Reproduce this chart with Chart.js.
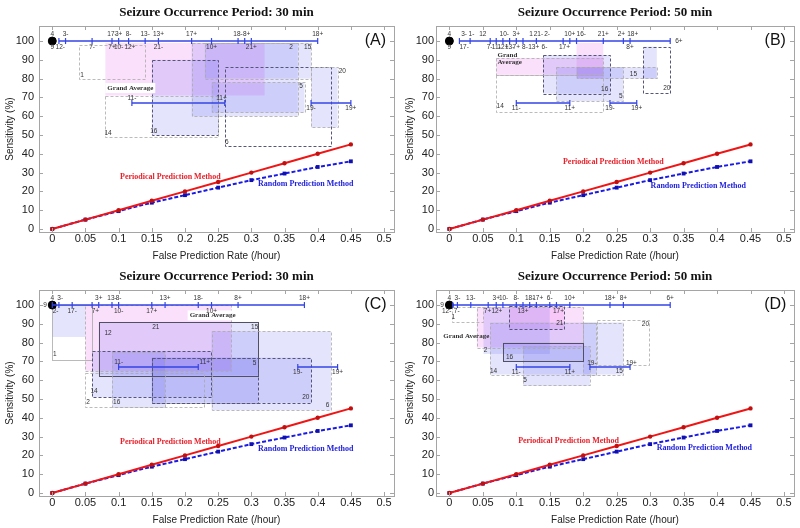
<!DOCTYPE html>
<html>
<head>
<meta charset="UTF-8">
<title>Seizure Occurrence Period</title>
<script src="https://cdn.jsdelivr.net/npm/chart.js"></script>
<style>
  body { margin: 0; background: #fff; }
  .panel { position: absolute; width: 400px; height: 264px; }
</style>
</head>
<body>
<div class="panel" style="left:0;top:0"><canvas id="chartA" width="400" height="264"></canvas></div>
<div class="panel" style="left:400px;top:0"><canvas id="chartB" width="400" height="264"></canvas></div>
<div class="panel" style="left:0;top:264px"><canvas id="chartC" width="400" height="264"></canvas></div>
<div class="panel" style="left:400px;top:264px"><canvas id="chartD" width="400" height="264"></canvas></div>

<script>
// reference curves (same in every panel)
const rateX = [0, 0.05, 0.1, 0.15, 0.2, 0.25, 0.3, 0.35, 0.4, 0.45];
const periodicalY = [0, 5, 10, 15, 20, 25, 30, 35, 40, 45];
const randomY = [0, 5, 9.5, 14, 18, 22, 26, 29.5, 33, 36];

const xTicks = [0, 0.05, 0.1, 0.15, 0.2, 0.25, 0.3, 0.35, 0.4, 0.45, 0.5];
const xTickLabels = ['0', '0.05', '0.1', '0.15', '0.2', '0.25', '0.3', '0.35', '0.4', '0.45', '0.5'];
const yTicks = [0, 10, 20, 30, 40, 50, 60, 70, 80, 90, 100];

// panel A  (30 min)
const topTicksA = [0.01, 0.02, 0.06, 0.09, 0.1, 0.115, 0.14, 0.16, 0.21, 0.24, 0.28, 0.29, 0.3, 0.4];
const midLinesA = [[0.12, 0.26, 67], [0.39, 0.45, 67]];
// [x1, x2, y1, y2, fill, border]
const boxesA = [
  [0.08, 0.32, 71, 99, 'p', 'n'],
  [0.04, 0.14, 80, 98, 'n', 'g'],
  [0.21, 0.37, 60, 99, 'b', 'g'],
  [0.23, 0.39, 80, 99, 'b', 'g'],
  [0.24, 0.38, 62, 78, 'b', 'g'],
  [0.15, 0.25, 50, 90, 'b', 'd'],
  [0.08, 0.25, 49, 71, 'n', 'g'],
  [0.26, 0.42, 44, 86, 'n', 'd'],
  [0.39, 0.43, 54, 86, 'b', 'g']
];
const notesA = [
  [0, 103.7, '4'], [0.02, 103.7, '3-'], [0.09, 103.7, '17-'], [0.1, 103.7, '3+'], [0.115, 103.7, '8-'],
  [0.14, 103.7, '13-'], [0.16, 103.7, '13+'], [0.21, 103.7, '17+'], [0.28, 103.7, '18-'], [0.293, 103.7, '8+'], [0.4, 103.7, '18+'],
  [0, 96.8, '9'], [0.012, 96.8, '12-'], [0.06, 96.8, '7-'], [0.09, 96.8, '7+'], [0.1, 96.8, '10-'], [0.117, 96.8, '12+'],
  [0.16, 96.8, '21-'], [0.24, 96.8, '10+'], [0.3, 96.8, '21+'], [0.36, 96.8, '2'], [0.385, 96.8, '15'],
  [0.045, 82, '1'], [0.375, 76, '5'], [0.437, 84, '20'], [0.153, 52, '16'], [0.084, 51, '14'], [0.263, 46, '6'],
  [0.12, 69.5, '11-'], [0.255, 69.5, '11+'], [0.39, 64.3, '19-'], [0.45, 64.3, '19+']
];
const gaLabelA = [[0.083, 75, 'Grand Average', 1]];
const methodPosA = [[0.178, 27.7], [0.382, 24]];

// panel B  (50 min)
const topTicksB = [0.015, 0.031, 0.061, 0.07, 0.08, 0.09, 0.1, 0.11, 0.13, 0.17, 0.18, 0.19, 0.23, 0.26, 0.27, 0.33];
const midLinesB = [[0.1, 0.18, 67], [0.24, 0.28, 67]];
const boxesB = [
  [0.07, 0.23, 82, 91, 'p', 'g'],
  [0.19, 0.23, 80, 99, 'p', 'n'],
  [0.14, 0.24, 72, 92.5, 'b', 'd'],
  [0.16, 0.26, 68, 86, 'b', 'g'],
  [0.19, 0.31, 80, 86, 'b', 'g'],
  [0.29, 0.31, 80, 97, 'b', 'n'],
  [0.29, 0.33, 72.5, 97, 'n', 'd'],
  [0.07, 0.23, 62.5, 82, 'n', 'g']
];
const notesB = [
  [0, 103.7, '4'], [0.022, 103.7, '3-'], [0.033, 103.7, '1-'], [0.05, 103.7, '12'], [0.082, 103.7, '10-'], [0.1, 103.7, '3+'],
  [0.122, 103.7, '1'], [0.133, 103.7, '21-'], [0.146, 103.7, '2-'], [0.18, 103.7, '10+'], [0.197, 103.7, '16-'],
  [0.23, 103.7, '21+'], [0.257, 103.7, '2+'], [0.274, 103.7, '18+'], [0.343, 100, '6+'],
  [0, 96.8, '9'], [0.022, 96.8, '17-'], [0.06, 96.8, '7-'], [0.07, 96.8, '11-'], [0.08, 96.8, '12+'], [0.09, 96.8, '13-'],
  [0.1, 96.8, '7+'], [0.113, 96.8, '8-'], [0.126, 96.8, '13+'], [0.142, 96.8, '6-'], [0.172, 96.8, '17+'], [0.27, 96.8, '8+'],
  [0.232, 74.5, '16'], [0.256, 70.5, '5'], [0.275, 82.5, '15'], [0.325, 75, '20'], [0.076, 65.2, '14'],
  [0.1, 64.5, '11-'], [0.18, 64.5, '11+'], [0.24, 64.5, '19-'], [0.28, 64.5, '19+']
];
const gaLabelB = [[0.072, 92.6, 'Grand', 0], [0.072, 88.7, 'Average', 0]];
const methodPosB = [[0.245, 35.6], [0.372, 23]];

// panel C  (30 min)
const topTicksC = [0, 0.01, 0.03, 0.06, 0.07, 0.09, 0.1, 0.15, 0.17, 0.22, 0.24, 0.28, 0.38];
const midLinesC = [[0.1, 0.22, 67], [0.37, 0.43, 67]];
const boxesC = [
  [0.05, 0.27, 65, 100, 'p', 'g'],
  [0, 0.05, 83, 100, 'b', 'n'],
  [0, 0.06, 71, 100, 'n', 'gs'],
  [0.07, 0.31, 62.5, 91, 'b', 's'],
  [0.24, 0.42, 44, 86, 'b', 'g'],
  [0.06, 0.24, 51, 75.5, 'b', 'd'],
  [0.09, 0.17, 45.5, 75, 'b', 'g'],
  [0.05, 0.23, 46, 64, 'n', 'g'],
  [0.15, 0.39, 48, 72, 'b', 'd'],
  [0.15, 0.31, 48, 72, 'b', 'd']
];
const notesC = [
  [0, 103.7, '4'], [0.012, 103.7, '3-'], [0.07, 103.7, '3+'], [0.09, 103.7, '13-'], [0.1, 103.7, '8-'], [0.17, 103.7, '13+'],
  [0.22, 103.7, '18-'], [0.28, 103.7, '8+'], [0.38, 103.7, '18+'],
  [-0.011, 100, '9'], [0.005, 96.8, '2-'], [0.03, 96.8, '17-'], [0.065, 96.8, '7+'], [0.1, 96.8, '10-'], [0.15, 96.8, '17+'], [0.24, 96.8, '10+'],
  [0.156, 88, '21'], [0.305, 88, '15'], [0.084, 85, '12'], [0.004, 74, '1'], [0.305, 69, '5'], [0.382, 51, '20'],
  [0.415, 46.5, '6'], [0.063, 54, '14'], [0.097, 48.3, '16'], [0.054, 48.3, '2'],
  [0.1, 69.5, '11-'], [0.23, 69.5, '11+'], [0.37, 64, '19-'], [0.43, 64, '19+']
];
const gaLabelC = [[0.207, 94.5, 'Grand Average', 1]];
const methodPosC = [[0.178, 27.3], [0.382, 23.4]];

// panel D  (50 min)
const topTicksD = [0.005, 0.012, 0.032, 0.058, 0.07, 0.08, 0.1, 0.11, 0.12, 0.13, 0.15, 0.16, 0.18, 0.24, 0.26, 0.33];
const midLinesD = [[0.1, 0.18, 67], [0.21, 0.27, 67]];
const boxesD = [
  [0.041, 0.2, 77.4, 99, 'p', 'g'],
  [0.089, 0.171, 87.2, 99.5, 'p', 'd'],
  [0.004, 0.05, 91, 99, 'n', 'g'],
  [0.051, 0.15, 74, 99, 'b', 'n'],
  [0.061, 0.22, 63, 90.7, 'b', 'g'],
  [0.2, 0.26, 63, 90.7, 'b', 'g'],
  [0.22, 0.298, 68, 92, 'n', 'g'],
  [0.11, 0.21, 57, 78, 'b', 'g'],
  [0.08, 0.2, 70.2, 80, 'b', 's']
];
const notesD = [
  [0, 103.7, '4'], [0.012, 103.7, '3-'], [0.032, 103.7, '13-'], [0.07, 103.7, '3+'], [0.081, 103.7, '10-'], [0.1, 103.7, '8-'],
  [0.12, 103.7, '18-'], [0.132, 103.7, '17+'], [0.15, 103.7, '6-'], [0.18, 103.7, '10+'], [0.24, 103.7, '18+'], [0.26, 103.7, '8+'], [0.33, 103.7, '6+'],
  [-0.011, 100, '9'], [-0.004, 96.8, '12-'], [0.011, 96.8, '7-'], [0.057, 96.8, '7+'], [0.071, 96.8, '12+'], [0.11, 96.8, '13+'], [0.163, 96.8, '17+'],
  [0.006, 93.4, '1'], [0.165, 90.4, '21'], [0.054, 76, '2'], [0.09, 72, '16'], [0.066, 65, '14'], [0.113, 60, '5'],
  [0.254, 65, '15'], [0.293, 90, '20'],
  [0.1, 64.3, '11-'], [0.18, 64.3, '11+'], [0.213, 69, '19-'], [0.272, 69, '19+']
];
const gaLabelD = [[-0.009, 83.6, 'Grand Average', 0]];
const methodPosD = [[0.178, 27.8], [0.381, 23.9]];

const fills = { p: 'rgba(235,115,235,0.22)', b: 'rgba(95,95,235,0.17)' };
const borders = {
  g: ['#a9a9a9', [3, 2], 0.8],
  d: ['#55557a', [3, 2], 1],
  s: ['#505060', [], 1],
  gs: ['#aaaaaa', [], 0.8]
};
const blueLine = '#3344e6';

function overlay(p) {
  return {
    id: 'overlay' + p.letter,
    beforeDatasetsDraw(chart) {
      const { ctx, chartArea: a, scales: { x, y } } = chart;
      ctx.save();
      ctx.beginPath();
      ctx.rect(a.left, a.top, a.right - a.left, a.bottom - a.top);
      ctx.clip();
      p.boxes.forEach(b => {
        if (b[4] === 'n') return;
        const x1 = x.getPixelForValue(b[0]), x2 = x.getPixelForValue(b[1]);
        const y1 = y.getPixelForValue(b[3]), y2 = y.getPixelForValue(b[2]);
        ctx.fillStyle = fills[b[4]];
        ctx.fillRect(x1, y1, x2 - x1, y2 - y1);
      });
      p.boxes.forEach(b => {
        if (b[5] === 'n') return;
        const st = borders[b[5]];
        const x1 = x.getPixelForValue(b[0]), x2 = x.getPixelForValue(b[1]);
        const y1 = y.getPixelForValue(b[3]), y2 = y.getPixelForValue(b[2]);
        ctx.strokeStyle = st[0];
        ctx.setLineDash(st[1]);
        ctx.lineWidth = st[2];
        ctx.strokeRect(Math.round(x1) + 0.5, Math.round(y1) + 0.5, Math.round(x2 - x1), Math.round(y2 - y1));
      });
      ctx.setLineDash([]);
      ctx.font = 'bold 7px "Liberation Serif", "Times New Roman", serif';
      ctx.textBaseline = 'middle';
      ctx.textAlign = 'left';
      p.ga.forEach(g => {
        const gx = x.getPixelForValue(g[0]), gy = y.getPixelForValue(g[1]);
        if (g[3]) {
          const w = ctx.measureText(g[2]).width;
          ctx.fillStyle = '#fff';
          ctx.fillRect(gx - 2, gy - 5, w + 4, 10);
        }
        ctx.fillStyle = '#333';
        ctx.fillText(g[2], gx, gy);
      });
      ctx.restore();
    },
    afterDatasetsDraw(chart) {
      const { ctx, scales: { x, y } } = chart;
      ctx.save();
      ctx.textBaseline = 'middle';
      ctx.textAlign = 'center';
      ctx.font = '6.5px "Liberation Sans Narrow", "Arial Narrow", "Liberation Sans", sans-serif';
      ctx.fillStyle = '#333';
      p.notes.forEach(n => {
        ctx.fillText(n[2], x.getPixelForValue(n[0]), y.getPixelForValue(n[1]));
      });
      ctx.font = 'bold 8px "Liberation Serif", "Times New Roman", serif';
      ctx.fillStyle = '#e8202a';
      ctx.fillText('Periodical Prediction Method', x.getPixelForValue(p.method[0][0]), y.getPixelForValue(p.method[0][1]));
      ctx.fillStyle = '#2222dd';
      ctx.fillText('Random Prediction Method', x.getPixelForValue(p.method[1][0]), y.getPixelForValue(p.method[1][1]));
      ctx.font = '16px "Liberation Sans", Arial, sans-serif';
      ctx.fillStyle = '#111';
      ctx.fillText('(' + p.letter + ')', x.getPixelForValue(0.487), y.getPixelForValue(100));
      ctx.restore();
    },
    afterDraw(chart) {
      const { ctx, chartArea: a, scales: { x, y } } = chart;
      ctx.save();
      ctx.strokeStyle = '#a5a5a5';
      ctx.lineWidth = 1;
      ctx.strokeRect(Math.round(a.left) + 0.5, Math.round(a.top) + 0.5, Math.round(a.right - a.left), Math.round(a.bottom - a.top));
      ctx.beginPath();
      xTicks.forEach(v => {
        const px = Math.round(x.getPixelForValue(v)) + 0.5;
        ctx.moveTo(px, a.bottom); ctx.lineTo(px, a.bottom - 4);
        ctx.moveTo(px, a.top); ctx.lineTo(px, a.top + 4);
      });
      yTicks.forEach(v => {
        const py = Math.round(y.getPixelForValue(v)) + 0.5;
        ctx.moveTo(a.left, py); ctx.lineTo(a.left + 4, py);
        ctx.moveTo(a.right, py); ctx.lineTo(a.right - 4, py);
      });
      ctx.stroke();
      ctx.restore();
    }
  };
}

function hLine(data) {
  return {
    data: data, showLine: true, borderColor: blueLine, borderWidth: 1.5,
    pointStyle: 'line', pointRotation: 90, pointRadius: 3, pointBorderWidth: 1.2,
    pointBorderColor: blueLine, pointBackgroundColor: blueLine
  };
}

function makePanel(id, p) {
  const periodical = rateX.map((v, i) => ({ x: v, y: periodicalY[i] }));
  const random = rateX.map((v, i) => ({ x: v, y: randomY[i] }));
  const datasets = [
    hLine(p.topTicks.map(v => ({ x: v, y: 100 }))),
    ...p.midLines.map(m => hLine([{ x: m[0], y: m[2] }, { x: m[1], y: m[2] }])),
    { data: [{ x: 0, y: 100 }], pointRadius: 4, pointBackgroundColor: '#000', pointBorderColor: '#000' },
    { data: periodical, showLine: true, borderColor: '#f01515', borderWidth: 2,
      pointRadius: 1.2, pointBackgroundColor: '#c01010', pointBorderColor: '#c01010' },
    { data: random, showLine: true, borderColor: '#1a1ae6', borderWidth: 2, borderDash: [4, 2],
      pointStyle: 'rect', pointRadius: 1.3, pointBackgroundColor: '#1010b0', pointBorderColor: '#1010b0' }
  ];
  new Chart(document.getElementById(id), {
    type: 'scatter',
    data: { datasets: datasets },
    options: {
      responsive: false,
      animation: false,
      events: [],
      layout: { padding: { left: 0, right: 400 - p.right, top: 0, bottom: 0 } },
      plugins: {
        legend: { display: false },
        tooltip: { enabled: false },
        title: {
          display: true, fullSize: false, text: p.title, color: '#111',
          font: { family: '"Liberation Serif", "Times New Roman", serif', size: 13, weight: 'bold' },
          padding: { top: 5, bottom: 5.4 }
        }
      },
      scales: {
        x: {
          type: 'linear', min: -0.02, max: 0.515,
          afterBuildTicks: s => { s.ticks = xTicks.map(v => ({ value: v })); },
          afterFit: s => { s.height = 32; },
          grid: { display: false, drawTicks: false },
          border: { display: false },
          ticks: {
            autoSkip: false, maxRotation: 0, padding: 0, color: '#222',
            font: { family: '"Liberation Sans", Arial, sans-serif', size: 11 },
            callback: (v, i) => xTickLabels[i]
          },
          title: {
            display: true, text: 'False Prediction Rate (/hour)', color: '#222',
            font: { family: '"Liberation Sans", Arial, sans-serif', size: 10 },
            padding: { top: 0, bottom: 2 }
          }
        },
        y: {
          min: -1.6, max: 108,
          afterBuildTicks: s => { s.ticks = yTicks.map(v => ({ value: v })); },
          afterFit: s => { s.width = p.left; },
          grid: { display: false, drawTicks: false },
          border: { display: false },
          ticks: {
            padding: p.left - 34, color: '#222',
            font: { family: '"Liberation Sans", Arial, sans-serif', size: 11 }
          },
          title: {
            display: true, text: 'Sensitivity (%)', color: '#222',
            font: { family: '"Liberation Sans", Arial, sans-serif', size: 10 },
            padding: { top: 4, bottom: 0 }
          }
        }
      }
    },
    plugins: [overlay(p)]
  });
}

makePanel('chartA', { letter: 'A', title: 'Seizure Occurrence Period: 30 min', left: 39, right: 397,
  topTicks: topTicksA, midLines: midLinesA, boxes: boxesA, notes: notesA, ga: gaLabelA, method: methodPosA });
makePanel('chartB', { letter: 'B', title: 'Seizure Occurrence Period: 50 min', left: 36, right: 396,
  topTicks: topTicksB, midLines: midLinesB, boxes: boxesB, notes: notesB, ga: gaLabelB, method: methodPosB });
makePanel('chartC', { letter: 'C', title: 'Seizure Occurrence Period: 30 min', left: 39, right: 397,
  topTicks: topTicksC, midLines: midLinesC, boxes: boxesC, notes: notesC, ga: gaLabelC, method: methodPosC });
makePanel('chartD', { letter: 'D', title: 'Seizure Occurrence Period: 50 min', left: 36, right: 396,
  topTicks: topTicksD, midLines: midLinesD, boxes: boxesD, notes: notesD, ga: gaLabelD, method: methodPosD });
</script>
</body>
</html>
